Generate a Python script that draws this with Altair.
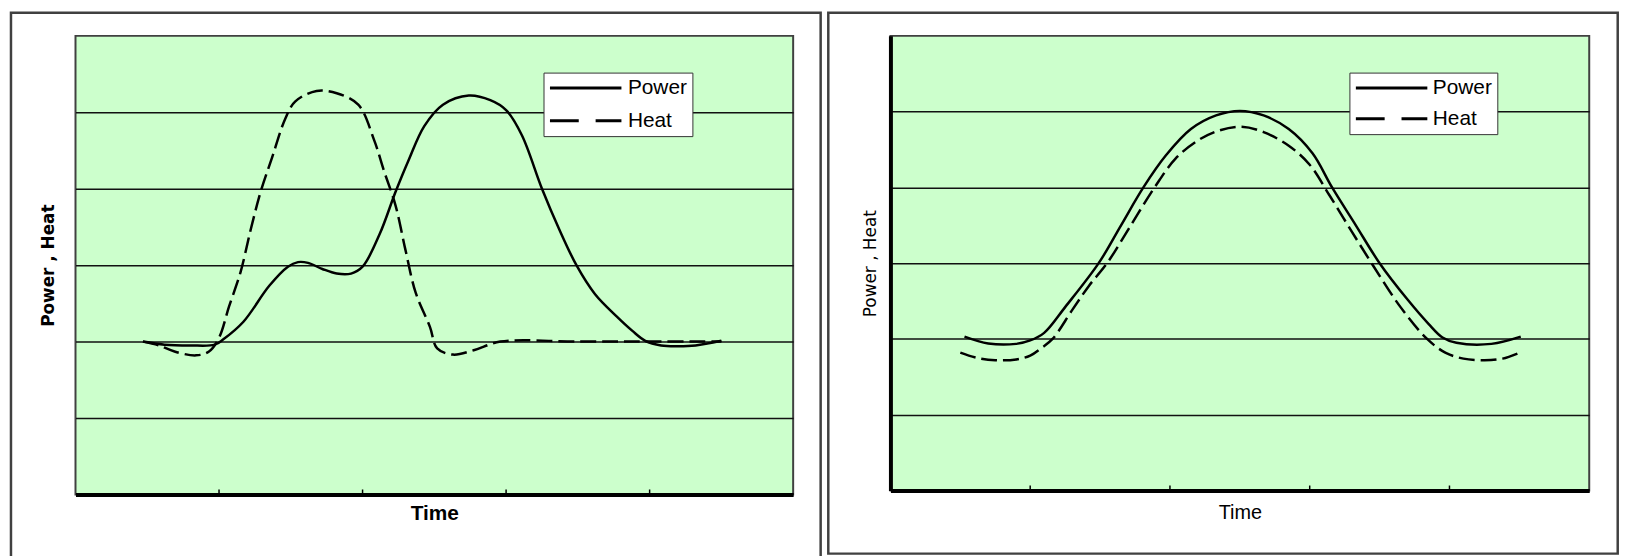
import altair as alt
import pandas as pd

# ---------------- data ----------------
series_names = ["Power", "Heat"]
x_domain = [0, 5]
y_domain = [-2, 4]
x_ticks = [1, 2, 3, 4]
y_grid = [-1, 0, 1, 2, 3]

left_power_t = [0.47, 0.62, 0.80, 0.97, 1.03, 1.17, 1.35, 1.48, 1.55, 1.62, 1.72, 1.82, 1.92, 2.00,
                2.12, 2.23, 2.32, 2.43, 2.56, 2.74, 2.89, 3.00, 3.11, 3.25, 3.37, 3.49, 3.62,
                3.77, 3.88, 3.97, 4.08, 4.20, 4.32, 4.50]
left_power_v = [0.00, -0.04, -0.05, -0.04, 0.03, 0.26, 0.73, 0.98, 1.04, 1.03, 0.95, 0.89, 0.89, 0.98,
                1.41, 1.96, 2.37, 2.82, 3.10, 3.22, 3.16, 3.03, 2.70, 2.00, 1.47, 1.00, 0.62,
                0.33, 0.14, 0.01, -0.05, -0.06, -0.05, 0.01]

left_heat_t = [0.47, 0.58, 0.69, 0.84, 0.93, 1.00, 1.07, 1.15, 1.22, 1.29, 1.37, 1.46, 1.53, 1.68,
               1.82, 1.97, 2.08, 2.15, 2.23, 2.30, 2.37, 2.47, 2.52, 2.63, 2.78, 2.96, 3.50, 4.00, 4.50]
left_heat_v = [0.00, -0.05, -0.13, -0.18, -0.13, 0.05, 0.46, 0.91, 1.46, 1.96, 2.41, 2.91, 3.14, 3.28,
               3.25, 3.10, 2.64, 2.23, 1.78, 1.19, 0.64, 0.19, -0.09, -0.17, -0.11, 0.00, 0.00, 0.00, 0.00]

right_power_t = [0.53, 0.70, 0.90, 1.00, 1.10, 1.25, 1.49, 1.65, 1.81, 1.97, 2.15, 2.33, 2.50, 2.67,
                 2.85, 3.02, 3.16, 3.33, 3.50, 3.70, 3.85, 3.95, 4.05, 4.30, 4.51]
right_power_v = [0.03, -0.06, -0.065, -0.02, 0.08, 0.42, 1.00, 1.50, 2.00, 2.42, 2.77, 2.95, 3.01, 2.95,
                 2.77, 2.45, 2.00, 1.50, 1.00, 0.52, 0.20, 0.02, -0.05, -0.065, 0.03]

right_heat_t = [0.50, 0.62, 0.75, 0.90, 1.00, 1.08, 1.16, 1.30, 1.42, 1.55, 1.72, 1.89, 2.04, 2.20,
                2.35, 2.51, 2.67, 2.85, 3.00, 3.14, 3.30, 3.46, 3.65, 3.84, 3.97, 4.10, 4.25, 4.38, 4.49]
right_heat_v = [-0.18, -0.25, -0.28, -0.27, -0.22, -0.12, 0.00, 0.38, 0.70, 1.00, 1.50, 2.00, 2.38, 2.62,
                2.75, 2.80, 2.73, 2.55, 2.30, 1.90, 1.42, 0.95, 0.42, 0.00, -0.18, -0.26, -0.28, -0.26, -0.19]

line_dash_plot = [16, 6]      # dash of the Heat curve in the plot
line_dash_legend = [29, 17]   # longer dash shown in the legend key


def make_df(pt, pv, ht, hv):
    return pd.DataFrame({
        "t": pt + ht,
        "v": pv + hv,
        "series": [series_names[0]] * len(pt) + [series_names[1]] * len(ht),
    })


def panel(df, W, H, bold, frame_box, legend_xy, x_title_pad, y_title_pad, y_domain_line,
          legend_row_pad, label_offset):
    weight = "bold" if bold else "normal"
    x_scale = alt.Scale(domain=x_domain, nice=False, zero=False)
    y_scale = alt.Scale(domain=y_domain, nice=False, zero=False)
    x_axis = alt.Axis(
        labels=False, ticks=False, grid=False,
        domain=True, domainColor="black", domainWidth=4,
        title="Time", titleFont="Liberation Sans", titleFontSize=21 if bold else 20,
        titleFontWeight=weight, titleColor="black", titlePadding=x_title_pad,
    )
    y_axis = alt.Axis(
        values=y_grid, labels=False, ticks=False,
        grid=True, gridColor="#111111", gridWidth=1.5,
        domain=y_domain_line, domainColor="black", domainWidth=4,
        title="Power , Heat", titleFont="DejaVu Sans", titleFontSize=17,
        titleFontWeight=weight, titleColor="black", titlePadding=y_title_pad,
    )
    legend = alt.Legend(
        title=None, orient="none", legendX=legend_xy[0], legendY=legend_xy[1],
        direction="vertical",
        symbolType="M-4,0H4", symbolSize=324, symbolStrokeWidth=3,
        symbolStrokeColor="black", symbolFillColor="transparent",
        symbolOffset=27, labelOffset=label_offset,
        labelFont="Liberation Sans", labelFontSize=21, labelColor="black",
        fillColor="white", strokeColor="#333333", padding=5, rowPadding=legend_row_pad,
    )

    power_line = alt.Chart(df).transform_filter(
        alt.datum.series == series_names[0]
    ).mark_line(color="black", strokeWidth=2.5, interpolate="catmull-rom").encode(
        x=alt.X("t:Q", scale=x_scale, axis=x_axis),
        y=alt.Y("v:Q", scale=y_scale, axis=y_axis),
    )
    heat_line = alt.Chart(df).transform_filter(
        alt.datum.series == series_names[1]
    ).mark_line(color="black", strokeWidth=2.5, interpolate="catmull-rom",
                strokeDash=line_dash_plot).encode(
        x=alt.X("t:Q", title="Time"),
        y=alt.Y("v:Q", title="Power , Heat"),
    )
    # legend key only (draws no marks; the scale domain gives the two entries)
    legend_layer = alt.Chart(df).transform_filter("false").mark_line(
        color="black", strokeWidth=2.5
    ).encode(
        x=alt.X("t:Q", title="Time"),
        y=alt.Y("v:Q", title="Power , Heat"),
        strokeDash=alt.StrokeDash(
            "series:N",
            scale=alt.Scale(domain=series_names, range=[[1, 0], line_dash_legend]),
            legend=legend,
        ),
    )
    ticks = alt.Chart(pd.DataFrame({"t": x_ticks})).mark_rule(color="black", strokeWidth=1.5).encode(
        x=alt.X("t:Q", title="Time"),
        y=alt.value(H - 5),
        y2=alt.value(H),
    )
    fx1, fx2, fy1, fy2 = frame_box
    frame = alt.Chart(pd.DataFrame({"k": [0]})).mark_rect(
        filled=False, stroke="#404040", strokeWidth=2.5
    ).encode(
        x=alt.value(fx1), x2=alt.value(fx2), y=alt.value(fy1), y2=alt.value(fy2)
    )
    return alt.layer(frame, power_line, heat_line, legend_layer, ticks).properties(width=W, height=H)


left_df = make_df(left_power_t, left_power_v, left_heat_t, left_heat_v)
right_df = make_df(right_power_t, right_power_v, right_heat_t, right_heat_v)

W1, H1 = 723, 462
W2, H2 = 704, 458

left = panel(left_df, W1, H1, True, (-65, 750.7, -23.4, 530), (471.5, 37), 8, 18, False, 11, 32)
right = panel(right_df, W2, H2, False, (-62.6, 732.7, -23.4, 521.6), (462.4, 37), 12, 11, True, 9, 31)

chart = alt.hconcat(left, right, spacing=3).resolve_scale(
    x="independent", y="independent", strokeDash="independent"
).resolve_legend(strokeDash="independent").properties(
    padding=0, background="white"
).configure_view(
    fill="#CCFFCC", stroke="#404040", strokeWidth=2
)

chart.save("out.html", embed_options={"renderer": "svg", "actions": False})
